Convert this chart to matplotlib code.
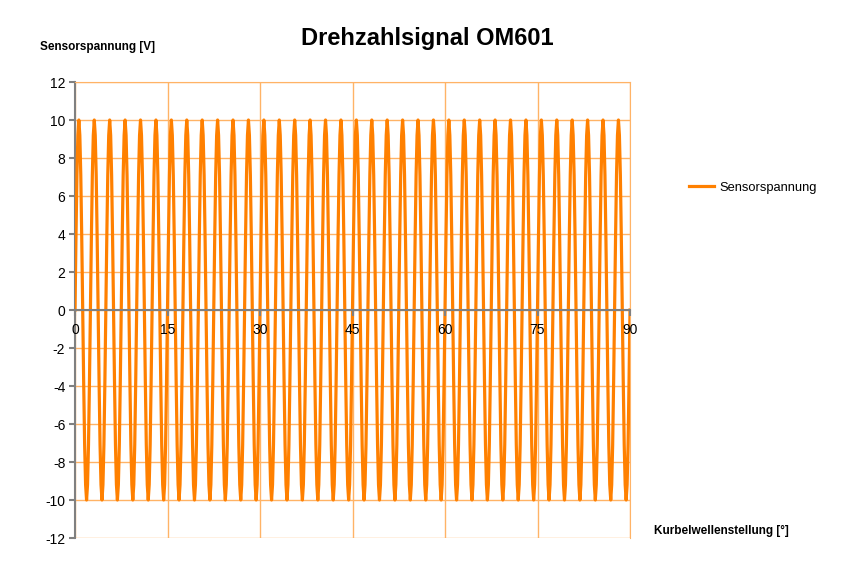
import numpy as np
import matplotlib.pyplot as plt

# one period of the sensor signal (V) at 1/16 period steps
cycle = [0, 3.8, 7.1, 9.2, 10, 9.2, 7.1, 3.8, 0, -3.8, -7.1, -9.2, -10, -9.2, -7.1, -3.8]
n_periods = 36          # 36 full waves between 0 and 90 deg
period = 2.5            # deg per wave
x_ticks = [0, 15, 30, 45, 60, 75, 90]
y_ticks = list(range(-12, 13, 2))

volts = np.append(np.tile(cycle, n_periods), 0)
angle = np.arange(len(volts)) * period / len(cycle)

plt.rcParams['font.family'] = ['Liberation Sans', 'DejaVu Sans']
plt.rcParams['axes.unicode_minus'] = False

fig = plt.figure(figsize=(8.54, 5.62), dpi=100)
ax = fig.add_axes([75 / 854, 24 / 562, 555 / 854, 456 / 562])

grid_col = '#ffb366'
ax.set_xlim(0, 90)
ax.set_ylim(-12, 12)
ax.set_xticks(x_ticks)
ax.set_yticks(y_ticks)
ax.grid(True, axis='y', color=grid_col, linewidth=1)
ax.set_axisbelow(True)
# vertical grid drawn by hand so the x tick labels can sit above the curve
for xt in x_ticks:
    ax.axvline(xt, color=grid_col, linewidth=1, zorder=1)

ax.plot(angle, volts, color='#ff8000', linewidth=2.3, label='Sensorspannung', zorder=3)

# x axis sits on the zero line, labels on top of the wave
ax.xaxis.set_zorder(5)
ax.spines['bottom'].set_position(('data', 0))
ax.spines['bottom'].set_color('#808080')
ax.spines['bottom'].set_linewidth(1.5)
ax.spines['bottom'].set_zorder(4)
ax.spines['left'].set_color('#808080')
ax.spines['left'].set_linewidth(1.5)
ax.spines['top'].set_color(grid_col)
ax.spines['right'].set_color(grid_col)

ax.tick_params(axis='y', direction='out', length=4, width=1.5, color='#808080',
               labelsize=10, pad=3)
ax.tick_params(axis='x', direction='out', length=4, width=1.5, color='#808080',
               labelsize=10, pad=5)

fig.text(427 / 854, 1 - 38 / 562, 'Drehzahlsignal OM601', ha='center', va='center',
         fontsize=17, fontweight='bold')
fig.text(40 / 854, 1 - 47 / 562, 'Sensorspannung [V]', ha='left', va='center',
         fontsize=8.5, fontweight='bold')
fig.text(654 / 854, 1 - 531 / 562, 'Kurbelwellenstellung [°]', ha='left', va='center',
         fontsize=8.5, fontweight='bold')

fig.legend(loc='center left', bbox_to_anchor=(677 / 854, 1 - 188 / 562), frameon=False,
           fontsize=9.3, handlelength=2.0, handletextpad=0.4)

fig.savefig('out.png', dpi=100)
